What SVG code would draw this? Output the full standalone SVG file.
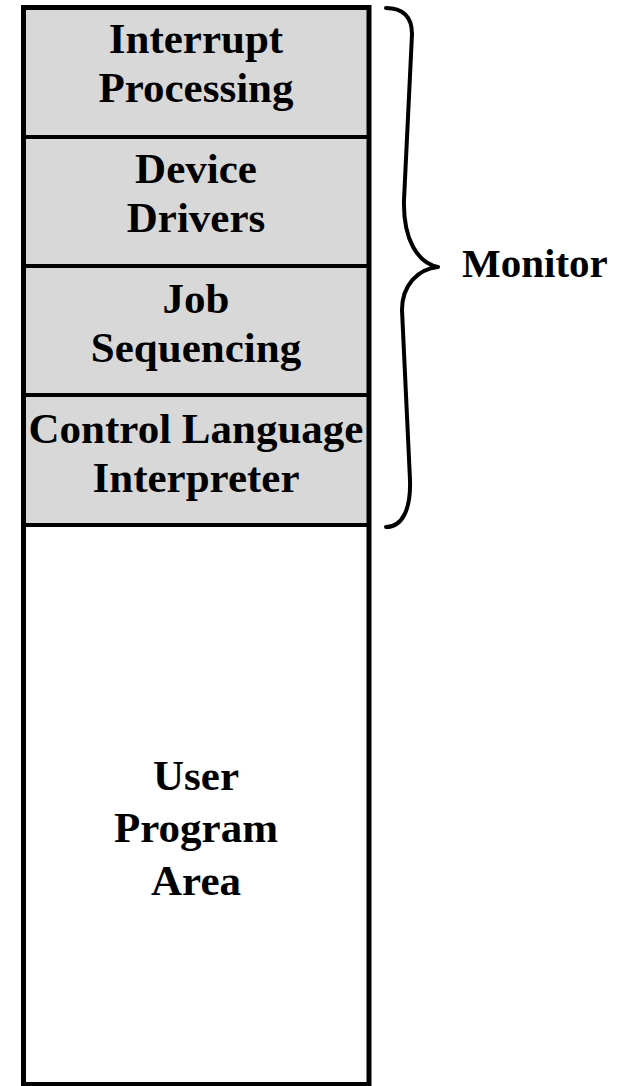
<svg xmlns="http://www.w3.org/2000/svg" width="632" height="1086" viewBox="0 0 632 1086">
  <style>
    .layer { fill: #d8d8d8; stroke: none; }
    .divider { stroke: #000; stroke-width: 4; }
    .label { font-family: "Liberation Serif", "Times New Roman", serif; font-weight: bold; font-size: 43px; fill: #000; text-anchor: middle; }
    .side { font-size: 41px; text-anchor: start; }
    .brace { fill: none; stroke: #000; stroke-width: 4; stroke-linecap: round; stroke-linejoin: round; }
  </style>
  <rect width="632" height="1086" fill="#fff"/>

  <!-- Monitor layers -->
  <g id="interrupt-processing">
    <rect class="layer" x="24" y="8" width="345" height="129"/>
    <text class="label" x="196" y="53">Interrupt</text>
    <text class="label" x="196" y="102">Processing</text>
  </g>
  <g id="device-drivers">
    <rect class="layer" x="24" y="137" width="345" height="129"/>
    <text class="label" x="196" y="183">Device</text>
    <text class="label" x="196" y="232">Drivers</text>
  </g>
  <g id="job-sequencing">
    <rect class="layer" x="24" y="266" width="345" height="129"/>
    <text class="label" x="196" y="313">Job</text>
    <text class="label" x="196" y="362">Sequencing</text>
  </g>
  <g id="control-language-interpreter">
    <rect class="layer" x="24" y="395" width="345" height="130"/>
    <text class="label" x="196" y="443">Control Language</text>
    <text class="label" x="196" y="492">Interpreter</text>
  </g>
  <g id="user-program-area">
    <text class="label" x="196" y="790">User</text>
    <text class="label" x="196" y="842">Program</text>
    <text class="label" x="196" y="895">Area</text>
  </g>

  <!-- memory outline and layer boundaries -->
  <g id="outline">
    <rect x="23.5" y="7.5" width="345.5" height="1077" fill="none" stroke="#000" stroke-width="5"/>
    <line class="divider" x1="23" y1="137" x2="369" y2="137"/>
    <line class="divider" x1="23" y1="266" x2="369" y2="266"/>
    <line class="divider" x1="23" y1="395" x2="369" y2="395"/>
    <line class="divider" x1="23" y1="525" x2="369" y2="525"/>
  </g>

  <!-- brace grouping the monitor layers -->
  <g id="monitor">
    <path class="brace" d="M 386,8 C 402,8 412,16 412,34 L 404,200 C 403,240 418,263 438,267 C 418,269 402,285 402,310 L 410,480 C 411,510 402,527 386,527"/>
    <text class="label side" x="462" y="277">Monitor</text>
  </g>
</svg>
